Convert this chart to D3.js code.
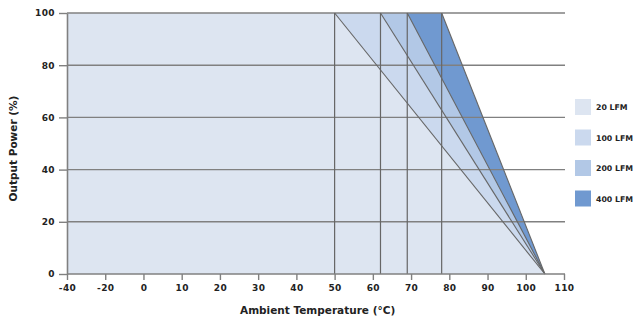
<!DOCTYPE html>
<html>
<head>
<meta charset="utf-8">
<script src="https://cdn.jsdelivr.net/npm/d3@7/dist/d3.min.js"></script>
<style>
  html, body { margin: 0; padding: 0; background: #fff; }
  svg { display: block; }
  text { font-family: "DejaVu Sans", "Liberation Sans", Arial, sans-serif; font-weight: bold; fill: #222; }
</style>
</head>
<body>
<div id="chart"></div>
<script>
// Derating curves: full power up to the knee temperature, linear down to zero at 105 °C
const airflow = ["20 LFM", "100 LFM", "200 LFM", "400 LFM"];
const kneeTemp = [50, 62, 69, 78];
const zeroTemp = [105, 105, 105, 105];
const fullPower = 100;
const xTicks = [-40, -20, 0, 10, 20, 30, 40, 50, 60, 70, 80, 90, 100, 110];
const yTicks = [0, 20, 40, 60, 80, 100];
const fills = ["#dde5f1", "#cbd9ee", "#b2c8e6", "#7099d0"];

const W = 637, H = 320;
const margin = { left: 67, right: 73, top: 13, bottom: 46 };
const innerW = W - margin.left - margin.right;
const innerH = H - margin.top - margin.bottom;
const fontStack = "'DejaVu Sans', 'Liberation Sans', Arial, sans-serif";

const svg = d3.select("#chart").append("svg").attr("width", W).attr("height", H);
const g = svg.append("g").attr("transform", `translate(${margin.left},${margin.top})`);

// Ticks are evenly spaced even though -40…0 steps by 20, so the scale is piecewise
const step = innerW / (xTicks.length - 1);
const x = d3.scaleLinear()
  .domain([-40, -20, 0, 110])
  .range([0, step, 2 * step, innerW]);
const y = d3.scaleLinear().domain([0, 100]).range([innerH, 0]);

// Filled derating regions, widest (400 LFM) first so narrower ones sit on top
const area = d3.line().x(d => x(d[0])).y(d => y(d[1]));
const idx = d3.range(airflow.length).reverse();
g.selectAll("path.region").data(idx).join("path")
  .attr("class", "region")
  .attr("d", i => area([[-40, 0], [-40, fullPower], [kneeTemp[i], fullPower], [zeroTemp[i], 0]]) + "Z")
  .attr("fill", i => fills[i]);

// Horizontal grid lines
g.selectAll("line.grid").data(yTicks.filter(v => v > 0)).join("line")
  .attr("class", "grid")
  .attr("x1", 0).attr("x2", innerW + 1)
  .attr("y1", d => y(d)).attr("y2", d => y(d))
  .attr("stroke", "#808080").attr("stroke-width", 1.4);

// Knee verticals and sloped derating lines
const lineColor = "#666";
g.selectAll("line.knee").data(kneeTemp).join("line")
  .attr("class", "knee")
  .attr("x1", d => x(d)).attr("x2", d => x(d))
  .attr("y1", y(fullPower)).attr("y2", y(0))
  .attr("stroke", lineColor).attr("stroke-width", 1.2);
g.selectAll("line.slope").data(d3.range(airflow.length)).join("line")
  .attr("class", "slope")
  .attr("x1", i => x(kneeTemp[i])).attr("y1", y(fullPower))
  .attr("x2", i => x(zeroTemp[i])).attr("y2", y(0))
  .attr("stroke", lineColor).attr("stroke-width", 1.1);

// Axes (plain hyphen for negative labels)
const fmt = d => String(d);
const xAxis = g.append("g").attr("transform", `translate(0,${innerH})`)
  .call(d3.axisBottom(x).tickValues(xTicks).tickFormat(fmt).tickSizeInner(6).tickSizeOuter(0).tickPadding(5));
const yAxis = g.append("g")
  .call(d3.axisLeft(y).tickValues(yTicks).tickFormat(fmt).tickSizeInner(8).tickSizeOuter(0).tickPadding(4));
[xAxis, yAxis].forEach(a => {
  a.select(".domain").attr("stroke", "#808080").attr("stroke-width", 1.6);
  a.selectAll(".tick line").attr("stroke", "#808080").attr("stroke-width", 1.4);
  a.selectAll(".tick text").attr("font-size", 9).attr("font-weight", "bold")
    .attr("letter-spacing", 0.4)
    .attr("font-family", fontStack).attr("fill", "#222");
});
xAxis.select(".domain").attr("d", `M0,0H${innerW + 1}`);

// Axis titles
svg.append("text")
  .attr("x", margin.left + x(50) - 17).attr("y", 314)
  .attr("text-anchor", "middle").attr("font-size", 10.5)
  .text("Ambient Temperature (°C)");
svg.append("text")
  .attr("transform", `translate(17,${margin.top + innerH / 2 + 5}) rotate(-90)`)
  .attr("text-anchor", "middle").attr("font-size", 10.5)
  .text("Output Power (%)");

// Legend
const legend = svg.append("g").attr("transform", "translate(575,99)");
const rows = legend.selectAll("g").data(d3.range(airflow.length)).join("g")
  .attr("transform", i => `translate(0,${i * 30.5})`);
rows.append("rect").attr("width", 16).attr("height", 16).attr("fill", i => fills[i]);
rows.append("text").attr("x", 21).attr("y", 11.3).attr("font-size", 7.8).text(i => airflow[i]);
</script>
</body>
</html>
